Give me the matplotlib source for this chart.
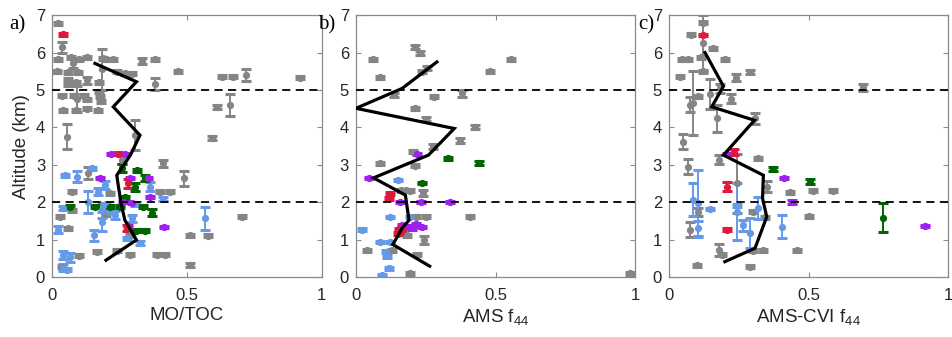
import matplotlib
matplotlib.use("Agg")
import matplotlib.pyplot as plt

plt.rcParams['font.family'] = ['Liberation Sans', 'DejaVu Sans']
plt.rcParams['mathtext.fontset'] = 'custom'
plt.rcParams['mathtext.rm'] = 'Liberation Sans'
plt.rcParams['mathtext.it'] = 'Liberation Sans'

# ---------------- data: (x, altitude km, altitude error) ----------------
# panel a) MO/TOC
a_gray = [(0.021, 6.79, 0.04), (0.036, 6.14, 0.15), (0.021, 5.82, 0.04), (0.07, 5.87, 0.04),
          (0.10, 5.82, 0.04), (0.13, 5.87, 0.04), (0.079, 5.71, 0.12), (0.017, 5.50, 0.04),
          (0.06, 5.48, 0.04), (0.097, 5.48, 0.04), (0.128, 5.26, 0.10), (0.06, 5.27, 0.04),
          (0.09, 5.20, 0.04), (0.06, 5.15, 0.04), (0.091, 4.75, 0.35), (0.036, 4.84, 0.04),
          (0.08, 4.84, 0.04), (0.12, 4.84, 0.04), (0.042, 4.46, 0.04), (0.09, 4.46, 0.04),
          (0.128, 4.50, 0.04), (0.171, 4.46, 0.04), (0.184, 5.55, 0.55), (0.175, 5.20, 0.04),
          (0.175, 4.95, 0.04), (0.18, 4.70, 0.04), (0.19, 5.85, 0.04), (0.20, 5.82, 0.04),
          (0.227, 5.82, 0.04), (0.24, 5.49, 0.04), (0.27, 5.45, 0.04), (0.295, 5.43, 0.04),
          (0.332, 5.77, 0.08), (0.381, 5.82, 0.04), (0.467, 5.50, 0.04), (0.381, 5.16, 0.15),
          (0.178, 4.82, 0.04), (0.13, 4.75, 0.04), (0.054, 3.75, 0.33), (0.307, 3.80, 0.40),
          (0.63, 5.35, 0.04), (0.67, 5.35, 0.04), (0.72, 5.40, 0.15), (0.92, 5.33, 0.04),
          (0.61, 4.55, 0.06), (0.66, 4.60, 0.30), (0.593, 3.71, 0.05), (0.41, 3.04, 0.10),
          (0.49, 2.64, 0.20), (0.134, 2.78, 0.15), (0.258, 3.13, 0.10), (0.073, 2.28, 0.04),
          (0.073, 1.79, 0.04), (0.06, 1.30, 0.04), (0.03, 1.61, 0.04), (0.215, 2.24, 0.04),
          (0.40, 2.28, 0.04), (0.437, 2.28, 0.04), (0.289, 1.12, 0.04), (0.20, 1.68, 0.04),
          (0.165, 0.68, 0.04), (0.24, 0.70, 0.04), (0.289, 0.59, 0.04), (0.39, 0.59, 0.04),
          (0.42, 0.59, 0.04), (0.511, 1.12, 0.04), (0.578, 1.10, 0.04), (0.706, 1.61, 0.04),
          (0.511, 0.32, 0.05), (0.036, 0.28, 0.04), (0.10, 0.57, 0.04)]
a_blue = [(0.048, 2.72, 0.04), (0.091, 2.68, 0.15), (0.147, 2.91, 0.04), (0.363, 2.41, 0.12),
          (0.172, 2.28, 0.10), (0.196, 2.46, 0.10), (0.41, 2.08, 0.05), (0.134, 2.01, 0.30),
          (0.042, 1.84, 0.05), (0.184, 1.79, 0.20), (0.306, 1.95, 0.04), (0.233, 1.66, 0.10),
          (0.184, 1.48, 0.25), (0.298, 1.57, 0.10), (0.023, 1.27, 0.10), (0.157, 1.12, 0.15),
          (0.277, 1.03, 0.05), (0.326, 0.90, 0.05), (0.042, 0.59, 0.10), (0.067, 0.53, 0.12),
          (0.04, 0.25, 0.10), (0.055, 0.20, 0.04), (0.569, 1.57, 0.30), (0.20, 1.95, 0.04),
          (0.21, 1.75, 0.04)]
a_red = [(0.042, 6.49, 0.04), (0.246, 3.29, 0.04), (0.283, 2.50, 0.12), (0.277, 1.30, 0.08)]
a_purple = [(0.22, 3.29, 0.03), (0.27, 3.29, 0.03), (0.178, 2.64, 0.03), (0.289, 2.64, 0.03),
            (0.357, 2.64, 0.03), (0.363, 2.14, 0.03), (0.264, 2.01, 0.03), (0.295, 1.97, 0.03),
            (0.283, 1.36, 0.03), (0.416, 1.34, 0.03)]
a_green = [(0.258, 2.91, 0.10), (0.314, 2.86, 0.04), (0.307, 2.41, 0.10), (0.344, 2.64, 0.08),
           (0.27, 2.13, 0.04), (0.067, 1.88, 0.04), (0.159, 1.88, 0.04), (0.215, 1.88, 0.04),
           (0.252, 1.88, 0.04), (0.338, 1.88, 0.04), (0.369, 1.72, 0.10), (0.31, 1.24, 0.04),
           (0.344, 1.24, 0.04)]
a_mean_x = [0.20, 0.313, 0.27, 0.255, 0.24, 0.29, 0.326, 0.227, 0.313, 0.159]
a_mean_y = [0.45, 0.99, 1.52, 2.00, 2.72, 3.25, 3.79, 4.55, 5.22, 5.71]

# panel b) AMS f44
b_gray = [(0.061, 5.82, 0.04), (0.085, 5.34, 0.04), (0.212, 6.14, 0.05), (0.23, 5.98, 0.05),
          (0.236, 5.49, 0.04), (0.256, 5.58, 0.05), (0.481, 5.50, 0.04), (0.555, 5.82, 0.04),
          (0.137, 4.86, 0.05), (0.278, 4.82, 0.04), (0.38, 4.91, 0.10), (0.212, 4.51, 0.04),
          (0.252, 4.22, 0.05), (0.425, 4.02, 0.05), (0.371, 3.64, 0.07), (0.276, 3.48, 0.07),
          (0.206, 3.35, 0.04), (0.087, 3.04, 0.04), (0.212, 2.97, 0.04), (0.16, 2.32, 0.04),
          (0.18, 2.32, 0.04), (0.195, 2.30, 0.04), (0.24, 2.25, 0.08), (0.215, 1.61, 0.04),
          (0.25, 1.61, 0.04), (0.409, 1.61, 0.04), (0.182, 1.12, 0.04), (0.245, 0.99, 0.10),
          (0.039, 0.72, 0.04), (0.129, 0.72, 0.04), (0.218, 0.59, 0.04), (0.195, 0.10, 0.04),
          (0.98, 0.10, 0.04)]
b_blue = [(0.149, 2.59, 0.03), (0.122, 1.61, 0.03), (0.192, 1.61, 0.03), (0.021, 1.27, 0.03),
          (0.085, 0.94, 0.03), (0.123, 0.94, 0.03), (0.106, 0.68, 0.05), (0.112, 0.55, 0.05),
          (0.12, 0.23, 0.05), (0.093, 0.05, 0.03)]
b_red = [(0.122, 2.22, 0.04), (0.118, 2.10, 0.04), (0.155, 1.28, 0.04), (0.15, 1.15, 0.04),
         (0.165, 1.22, 0.04)]
b_purple = [(0.218, 3.29, 0.03), (0.045, 2.64, 0.03), (0.159, 2.01, 0.03), (0.233, 2.01, 0.03),
            (0.338, 2.01, 0.03), (0.165, 1.40, 0.03), (0.19, 1.35, 0.03), (0.215, 1.42, 0.03),
            (0.235, 1.33, 0.03), (0.20, 1.30, 0.03)]
b_green = [(0.328, 3.17, 0.05), (0.439, 3.04, 0.05), (0.236, 2.52, 0.03)]
b_mean_x = [0.264, 0.132, 0.165, 0.19, 0.177, 0.063, 0.26, 0.352, 0.0, 0.165, 0.29]
b_mean_y = [0.29, 0.87, 1.30, 1.52, 2.19, 2.65, 3.26, 3.97, 4.51, 5.04, 5.75]

# panel c) AMS-CVI f44
c_gray = [(0.123, 6.25, 0.75), (0.123, 6.80, 0.04), (0.078, 6.47, 0.04), (0.159, 6.11, 0.04),
          (0.045, 5.82, 0.04), (0.069, 5.82, 0.04), (0.116, 5.87, 0.04), (0.20, 5.82, 0.04),
          (0.039, 5.35, 0.04), (0.239, 5.33, 0.10), (0.29, 5.49, 0.05), (0.123, 5.50, 0.04),
          (0.087, 4.65, 0.85), (0.075, 4.60, 0.20), (0.147, 4.90, 0.40), (0.105, 4.83, 0.04),
          (0.183, 5.04, 0.12), (0.221, 4.76, 0.12), (0.173, 4.24, 0.35), (0.308, 4.24, 0.15),
          (0.049, 3.61, 0.20), (0.069, 2.95, 0.20), (0.179, 3.13, 0.12), (0.32, 3.17, 0.05),
          (0.696, 5.07, 0.10), (0.243, 2.50, 0.80), (0.35, 2.41, 0.15), (0.434, 2.26, 0.04),
          (0.517, 2.31, 0.04), (0.589, 2.31, 0.04), (0.50, 1.63, 0.04), (0.344, 1.60, 0.04),
          (0.302, 1.74, 0.04), (0.103, 1.74, 0.10), (0.075, 1.26, 0.20), (0.179, 0.72, 0.15),
          (0.19, 0.60, 0.04), (0.302, 0.70, 0.04), (0.338, 0.72, 0.04), (0.458, 0.72, 0.04),
          (0.099, 0.32, 0.04), (0.29, 0.28, 0.04)]
c_blue = [(0.085, 2.07, 0.45), (0.105, 1.97, 0.90), (0.105, 1.30, 0.20), (0.147, 1.81, 0.03),
          (0.243, 1.75, 0.75), (0.243, 1.90, 0.04), (0.266, 1.38, 0.15), (0.29, 1.17, 0.40),
          (0.32, 1.85, 0.30), (0.406, 1.35, 0.30)]
c_red = [(0.123, 6.47, 0.03), (0.233, 3.35, 0.08), (0.207, 2.41, 0.12), (0.207, 1.27, 0.03)]
c_purple = [(0.209, 3.29, 0.03), (0.412, 2.64, 0.03), (0.44, 2.01, 0.05), (0.918, 1.36, 0.03)]
c_green = [(0.374, 2.88, 0.05), (0.505, 2.55, 0.07), (0.768, 1.59, 0.39)]
c_mean_x = [0.20, 0.308, 0.35, 0.335, 0.338, 0.195, 0.306, 0.153, 0.195, 0.129]
c_mean_y = [0.41, 0.77, 1.61, 2.10, 2.72, 3.26, 4.19, 4.55, 5.10, 6.00]

xlabels = ['MO/TOC', r'AMS f$_{\mathregular{44}}$', r'AMS-CVI f$_{\mathregular{44}}$']
letters = ['a)', 'b)', 'c)']

colors = {'gray': '#858585', 'blue': '#6699e8', 'red': '#e0183c',
          'purple': '#a020f0', 'green': '#006400'}
frame = '#8a8a8a'
txtcol = '#262626'

fig = plt.figure(figsize=(9.53, 3.37), dpi=100)
boxes = [[0.0546, 0.178, 0.283, 0.777],
         [0.3735, 0.178, 0.293, 0.777],
         [0.702, 0.178, 0.293, 0.777]]

panels = [(a_gray, a_blue, a_red, a_purple, a_green, a_mean_x, a_mean_y),
          (b_gray, b_blue, b_red, b_purple, b_green, b_mean_x, b_mean_y),
          (c_gray, c_blue, c_red, c_purple, c_green, c_mean_x, c_mean_y)]

for i, (gray, blue, red, purple, green, mx, my) in enumerate(panels):
    ax = fig.add_axes(boxes[i])
    for pts, key in [(gray, 'gray'), (blue, 'blue'), (green, 'green'),
                     (purple, 'purple'), (red, 'red')]:
        xs = [p[0] for p in pts]
        ys = [p[1] for p in pts]
        es = [p[2] for p in pts]
        ax.errorbar(xs, ys, yerr=es, fmt='o', color=colors[key], ms=4.2,
                    capsize=3.3, capthick=2.2, elinewidth=1.4, zorder=2)
    ax.axhline(2, color='k', ls=(0, (4.5, 3)), lw=1.3, zorder=3)
    ax.axhline(5, color='k', ls=(0, (4.5, 3)), lw=1.3, zorder=3)
    ax.plot(mx, my, color='k', lw=2.3, zorder=4, solid_joinstyle='miter')
    ax.set_xlim(0, 1)
    ax.set_ylim(0, 7)
    ax.set_xticks([0, 0.5, 1])
    ax.set_xticklabels(['0', '0.5', '1'])
    ax.set_yticks(range(8))
    ax.tick_params(direction='in', length=3.5, width=0.8, color=frame,
                   top=True, right=True, labelsize=12, labelcolor=txtcol)
    ax.tick_params(axis='x', pad=8)
    ax.tick_params(axis='y', pad=5)
    for s in ax.spines.values():
        s.set_color(frame)
        s.set_linewidth(0.9)
    ax.set_xlabel(xlabels[i], fontsize=13.5, color=txtcol, labelpad=3)
    if i == 0:
        ax.set_ylabel('Altitude (km)', fontsize=13.5, color=txtcol, labelpad=4)

fig.text(0.010, 0.926, letters[0], family='Liberation Serif', fontsize=15, va='center')
fig.text(0.334, 0.926, letters[1], family='Liberation Serif', fontsize=15, va='center')
fig.text(0.670, 0.926, letters[2], family='Liberation Serif', fontsize=15, va='center')

fig.savefig('out.png', dpi=100)
